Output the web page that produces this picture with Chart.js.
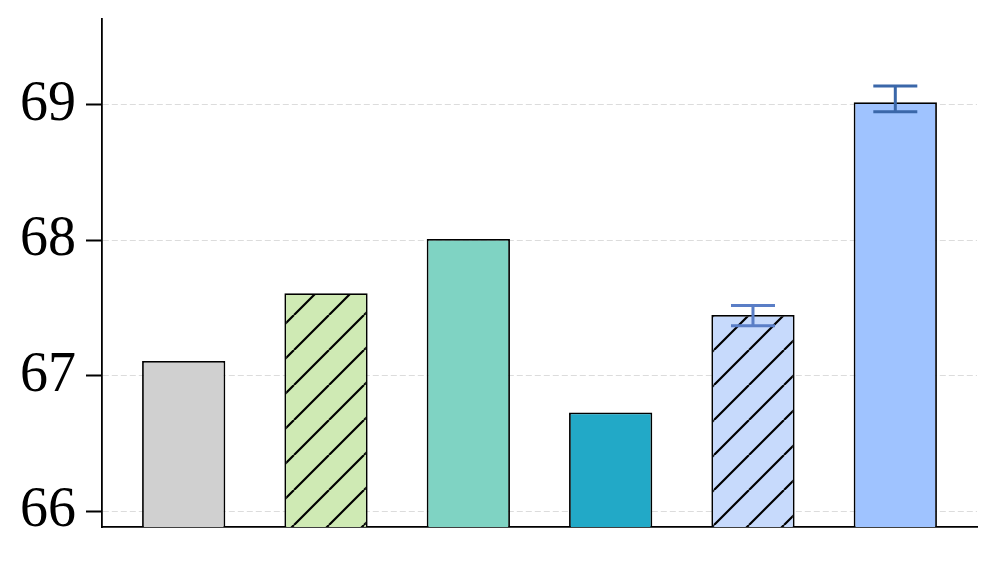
<!DOCTYPE html>
<html>
<head>
<meta charset="utf-8">
<script src="https://cdn.jsdelivr.net/npm/chart.js@4"></script>
<style>
  html, body { margin: 0; padding: 0; background: #fff; }
  #wrap { width: 997px; height: 563px; }
  #fontwarm { font-family: "Liberation Serif"; position: absolute; left: -999px; top: 0; }
</style>
</head>
<body>
<div id="wrap"><canvas id="barChart" width="997" height="563"></canvas></div>
<span id="fontwarm">6789</span>
<script>
// data
const categories = ['A', 'B', 'C', 'D', 'E', 'F'];
const values = [67.11, 67.61, 68.01, 66.73, 67.45, 69.02];
const errLow = [null, null, null, null, 67.37, 68.95];
const errHigh = [null, null, null, null, 67.52, 69.14];
const yTicks = [66, 67, 68, 69];

const barColors = ['#d0d0d0', '#cfeab4', '#7fd3c3', '#22a9c7', '#c7dafc', '#9fc3ff'];
const hatched = [false, true, false, false, true, false];
const errColors = [null, null, null, null, '#5a7ec6', '#3a67a9'];

// hatch "/" pattern like matplotlib
function makeHatch(bg) {
    const s = 35;
    const c = document.createElement('canvas');
    c.width = s; c.height = s;
    const g = c.getContext('2d');
    g.fillStyle = bg;
    g.fillRect(0, 0, s, s);
    g.strokeStyle = '#000';
    g.lineWidth = 2.2;
    g.beginPath();
    for (let k = -1; k <= 1; k++) {
        g.moveTo(k * s, s);
        g.lineTo(k * s + s, 0);
    }
    g.stroke();
    const p = g.createPattern(c, 'repeat');
    if (p.setTransform) p.setTransform(new DOMMatrix().translate(14, 0));
    return p;
}

// error bars drawn on top of the bars
const errorBars = {
    id: 'errorBars',
    afterDatasetsDraw(chart) {
        const { ctx, scales: { x, y } } = chart;
        ctx.save();
        ctx.lineWidth = 3;
        values.forEach((v, i) => {
            if (errLow[i] == null) return;
            const px = x.getPixelForValue(i);
            const lo = y.getPixelForValue(errLow[i]);
            const hi = y.getPixelForValue(errHigh[i]);
            ctx.strokeStyle = errColors[i];
            ctx.beginPath();
            ctx.moveTo(px, lo); ctx.lineTo(px, hi);
            ctx.moveTo(px - 22, lo); ctx.lineTo(px + 22, lo);
            ctx.moveTo(px - 22, hi); ctx.lineTo(px + 22, hi);
            ctx.stroke();
        });
        ctx.restore();
    }
};

function drawChart() {
    const fills = barColors.map((col, i) => hatched[i] ? makeHatch(col) : col);
    const ctx = document.getElementById('barChart').getContext('2d');
    new Chart(ctx, {
        type: 'bar',
        data: {
            datasets: [{
                data: values.map((v, i) => ({ x: i, y: v })),
                backgroundColor: fills,
                borderColor: '#000',
                borderWidth: 1.8,
                barPercentage: 0.585,
                categoryPercentage: 1
            }]
        },
        plugins: [errorBars],
        options: {
            responsive: false,
            animation: false,
            devicePixelRatio: 1,
            layout: { padding: { left: 0, top: 19, right: 20, bottom: 36 } },
            plugins: { legend: { display: false }, tooltip: { enabled: false } },
            scales: {
                x: {
                    type: 'linear',
                    min: -0.574,
                    max: 5.574,
                    offset: false,
                    afterBuildTicks: s => { s.ticks = categories.map((c, i) => ({ value: i })); },
                    grid: { display: false },
                    ticks: { display: false },
                    border: { display: true, color: '#000', width: 1.8 },
                    afterFit: s => { s.height = 0; s.paddingLeft = 0; s.paddingRight = 0; }
                },
                y: {
                    min: 65.884,
                    max: 69.635,
                    afterBuildTicks: s => { s.ticks = yTicks.map(v => ({ value: v })); },
                    afterFit: s => { s.width = 102; s.paddingTop = 0; s.paddingBottom = 0; },
                    ticks: {
                        color: '#000',
                        padding: 10,
                        autoSkip: false,
                        font: { family: '"Liberation Serif", "Times New Roman", serif', size: 56 }
                    },
                    grid: {
                        color: '#dcdcdc',
                        lineWidth: 1,
                        tickLength: 16,
                        tickWidth: 2,
                        tickColor: '#000',
                        tickBorderDash: []
                    },
                    border: { display: true, color: '#000', width: 1.8, dash: [6, 3] }
                }
            }
        }
    });
}

document.fonts.load('56px "Liberation Serif"').then(drawChart, drawChart);
</script>
</body>
</html>
